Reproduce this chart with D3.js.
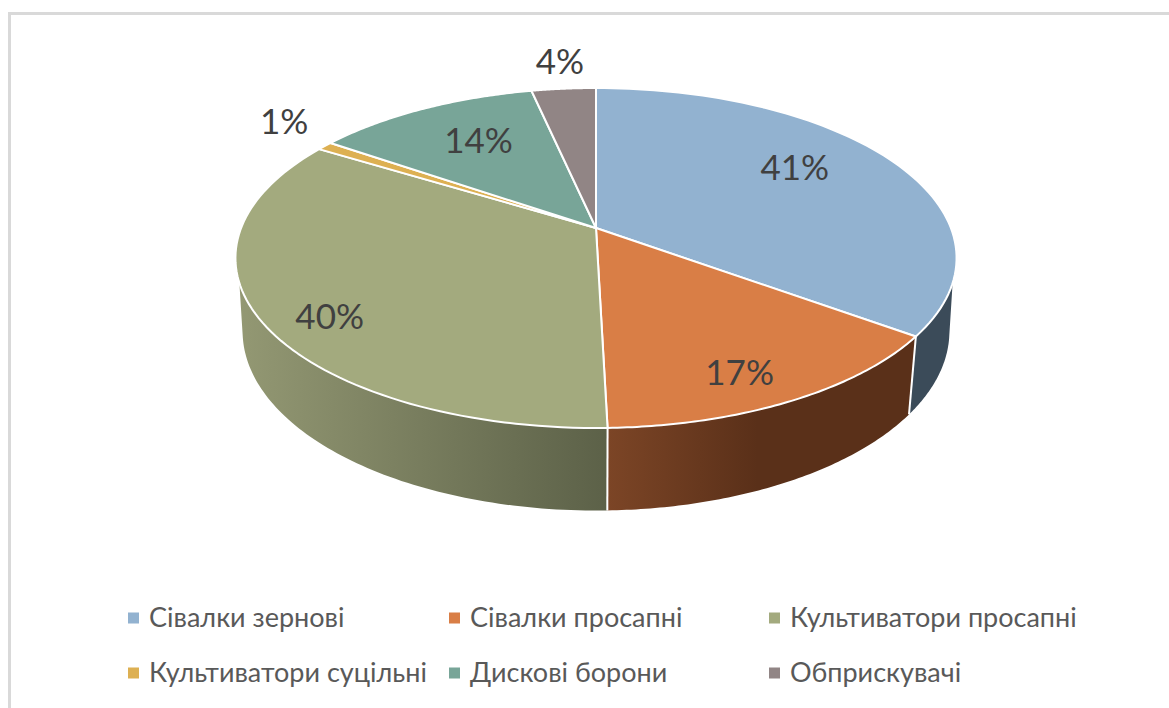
<!DOCTYPE html>
<html>
<head>
<meta charset="utf-8">
<script src="https://cdn.jsdelivr.net/npm/d3@7"></script>
<style>
  html, body { margin: 0; padding: 0; background: #fff; }
  svg { display: block; }
  text { font-family: Lato, "Open Sans", sans-serif; }
</style>
</head>
<body>
<svg id="chart" width="1169" height="708"></svg>
<script>
const categories = ['Сівалки зернові', 'Сівалки просапні', 'Культиватори просапні', 'Культиватори суцільні', 'Дискові борони', 'Обприскувачі']
const percents = [41, 17, 40, 1, 14, 4]
const colors = ['#92b2d0', '#d97e46', '#a3aa7e', '#ddb052', '#78a598', '#918585']

// label nudges from the projected slice point, radius as a fraction of the pie
const labelRadius = [0.7, 0.7, 0.7, 1.1, 0.7, 1.1]
const labelNudge = [[-11, -11], [14, 30], [-37, 27], [-16, -17], [8, 0], [-1, -15]]

const svg = d3.select('#chart')
const DEG = Math.PI / 180

// the pie is tilted in perspective, so the apex is not the middle of the ellipse
const apexX = 596
const apexY = 228
const scaleX = 354.9
const scaleY = 164.7
const persp = 0.1765
const depthY = 73.5
const depthW = 0.0196

/**
 * Projects a point of the disc to the page
 *
 * @param {number} angle Clockwise angle from the back of the pie, in radians
 * @param {number} r Distance from the apex, 1 being the rim
 * @param {boolean} lower True for the underside of the disc
 * @returns {number[]} The x and y position
 */
function project (angle, r, lower) {
  const X = r * Math.sin(angle)
  const Y = r * Math.cos(angle)
  const w = 1 + persp * Y + (lower ? depthW : 0)
  return [apexX + scaleX * X / w, apexY - (scaleY * Y - (lower ? depthY : 0)) / w]
}

const pie = d3.pie().sort(null).value(d => d)
const slices = pie(percents)
const line = d3.line()

function rim (start, end, lower) {
  return d3.range(0, 81).map(i => project(start + (end - start) * i / 80, 1, lower))
}

const defs = svg.append('defs')

// frame of the chart area, only the top and left show in the crop
svg.append('path')
  .attr('d', d3.line()([[9.5, 708], [9.5, 13.5], [1169, 13.5]]))
  .attr('fill', 'none')
  .attr('stroke', '#d9d9d9')
  .attr('stroke-width', 3)

// side walls: the top and lower rim stop at different angles so the
// closing edge follows the silhouette of the disc
const walls = [
  { top: [108.4 * DEG, slices[0].endAngle], low: [102 * DEG, slices[0].endAngle], from: '#3b4b59', to: '#3b4b59', span: null },
  { top: [slices[1].startAngle, slices[1].endAngle], low: [slices[1].startAngle, slices[1].endAngle], from: '#7c4526', to: '#5a3019', span: 150 },
  { top: [slices[2].startAngle, 251.6 * DEG], low: [slices[2].startAngle, 258 * DEG], from: '#939873', to: '#5c6148', span: null }
]

walls.forEach(function (wall, i) {
  const outline = rim(wall.top[0], wall.top[1], false).concat(rim(wall.low[0], wall.low[1], true).reverse())
  const xs = outline.map(p => p[0])
  const id = 'wall-' + i
  const grad = defs.append('linearGradient')
    .attr('id', id)
    .attr('gradientUnits', 'userSpaceOnUse')
    .attr('x1', d3.min(xs))
    .attr('x2', wall.span ? d3.min(xs) + wall.span : d3.max(xs))
    .attr('y1', 0)
    .attr('y2', 0)
  grad.append('stop').attr('offset', 0).attr('stop-color', wall.from)
  grad.append('stop').attr('offset', 1).attr('stop-color', wall.to)

  svg.append('path')
    .attr('d', line(outline) + 'Z')
    .attr('fill', 'url(#' + id + ')')
})

// white seams where the walls meet
;[slices[0].endAngle, slices[1].endAngle].forEach(function (a) {
  svg.append('path')
    .attr('d', line([project(a, 1, false), project(a, 1, true)]))
    .attr('stroke', '#fff')
    .attr('stroke-width', 2)
})

// top face
svg.append('g')
  .selectAll('path')
  .data(slices)
  .join('path')
  .attr('d', d => line([project(0, 0, false)].concat(rim(d.startAngle, d.endAngle, false))) + 'Z')
  .attr('fill', (d, i) => colors[i])
  .attr('stroke', '#fff')
  .attr('stroke-width', 2)
  .attr('stroke-linejoin', 'round')

// data labels
svg.append('g')
  .selectAll('text')
  .data(slices)
  .join('text')
  .attr('x', (d, i) => project((d.startAngle + d.endAngle) / 2, labelRadius[i], false)[0] + labelNudge[i][0])
  .attr('y', (d, i) => project((d.startAngle + d.endAngle) / 2, labelRadius[i], false)[1] + labelNudge[i][1])
  .attr('dy', '0.35em')
  .attr('text-anchor', 'middle')
  .attr('font-size', 35)
  .attr('fill', '#404040')
  .text(d => d.value + '%')

// legend, three columns and two rows
const legendX = d3.scaleOrdinal().domain([0, 1, 2]).range([128, 449, 769])
const legendY = d3.scaleOrdinal().domain([0, 1]).range([618, 673])

const legend = svg.append('g')
  .selectAll('g')
  .data(categories)
  .join('g')
  .attr('transform', (d, i) => 'translate(' + legendX(i % 3) + ',' + legendY(Math.floor(i / 3)) + ')')

legend.append('rect')
  .attr('y', -5.5)
  .attr('width', 11)
  .attr('height', 11)
  .attr('fill', (d, i) => colors[i])

legend.append('text')
  .attr('x', 21)
  .attr('dy', '0.35em')
  .attr('font-size', 27)
  .attr('fill', '#595959')
  .text(d => d)
</script>
</body>
</html>
